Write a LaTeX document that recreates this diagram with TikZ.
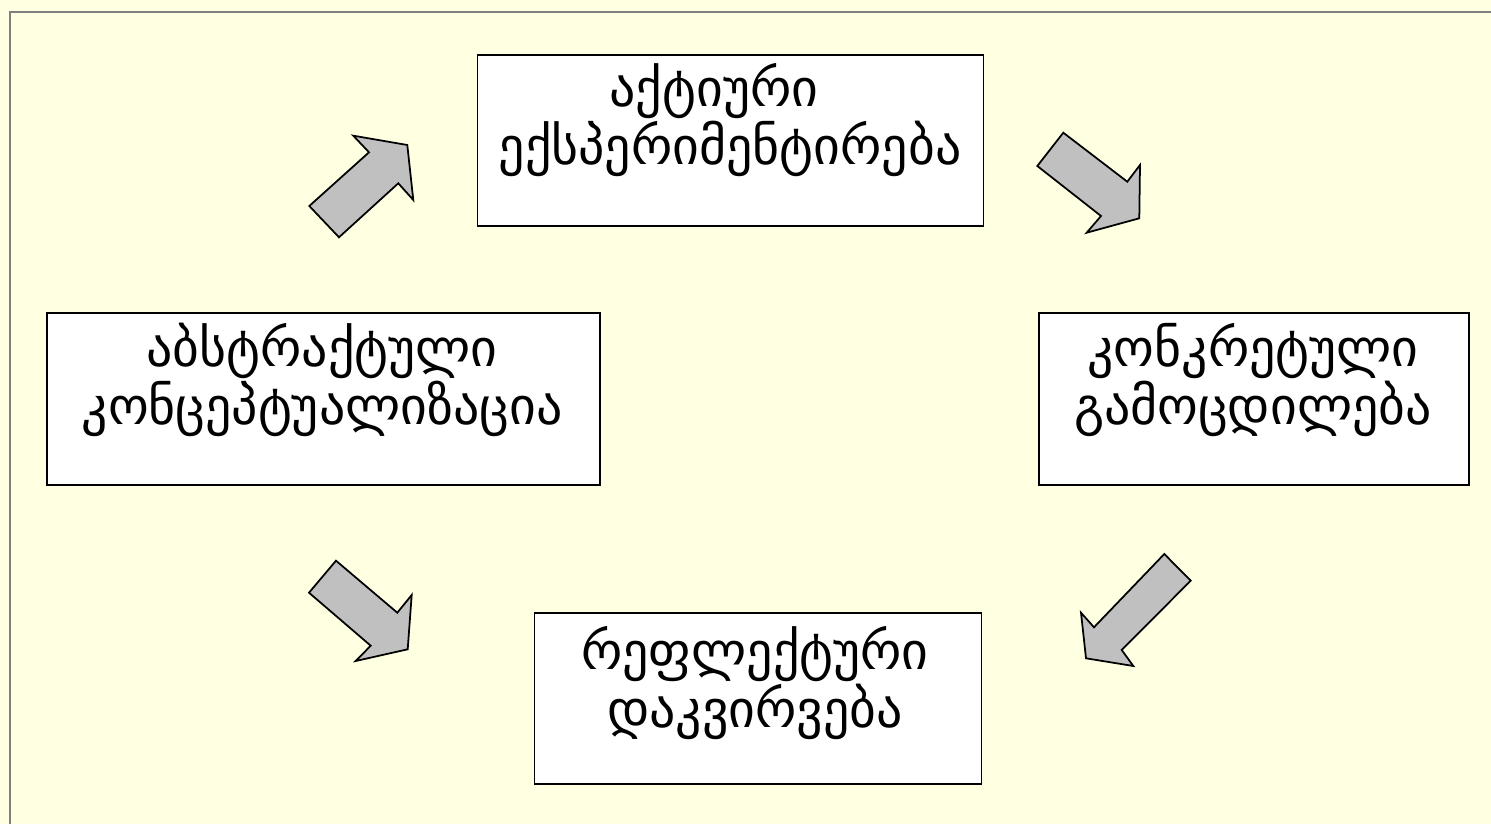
\documentclass[tikz,border=0pt]{standalone}
\usepackage{fontspec}
\newfontfamily\geofont{DejaVu Sans}
\usetikzlibrary{positioning}
\definecolor{bgyellow}{RGB}{255,255,226}
\definecolor{framegray}{RGB}{128,128,128}
\definecolor{arrowgray}{RGB}{192,192,192}
\tikzset{
  stagebox/.style={draw=black, fill=white, line width=1pt, inner sep=0pt},
  stagetext/.style={font=\geofont\fontsize{29.5}{28.6}\selectfont, align=center, inner sep=0pt},
  blockarrow/.style={fill=arrowgray, draw=black, line width=1pt, line join=miter}
}
\begin{document}
\begin{tikzpicture}[x=0.02cm,y=-0.02cm]
	\useasboundingbox (0,0) rectangle (1491,824);
	\fill[bgyellow] (0,0) rectangle (1491,824);
	\draw[framegray, line width=1.2pt] (10,824)--(10,12)--(1491,12);

	% stages
	\node[stagebox, minimum width=10.12cm, minimum height=3.42cm] (active) at (730.5,140.5) {};
	\node[stagebox, minimum width=11.06cm, minimum height=3.44cm] (abstract) at (323.5,399) {};
	\node[stagebox, minimum width=8.6cm, minimum height=3.44cm] (concrete) at (1254,399) {};
	\node[stagebox, minimum width=8.94cm, minimum height=3.42cm] (reflective) at (758,698.5) {};

	\node[stagetext] (activetext) at (730,120) {აქტიური\hspace*{0.64cm}\\ექსპერიმენტირება};
	\node[stagetext] (abstracttext) at (322,380) {აბსტრაქტული\\კონცეპტუალიზაცია};
	\node[stagetext] (concretetext) at (1253,380) {კონკრეტული\\გამოცდილება};
	\node[stagetext] (reflectivetext) at (755,683) {რეფლექტური\\დაკვირვება};

	% cycle arrows
	\filldraw[blockarrow] (309.3,206)--(339,237.3)--(398.3,183.3)--(413.3,200)--(407.3,145)--(353.3,135.7)--(369,152.3)--cycle;
	\filldraw[blockarrow] (1063.3,132.7)--(1037.3,166)--(1101,216)--(1086.7,232.7)--(1139.3,218.3)--(1140,165)--(1127.3,181.7)--cycle;
	\filldraw[blockarrow] (1164.3,554)--(1190.7,580.7)--(1121.7,650)--(1133.3,666)--(1086,658.3)--(1081,612.7)--(1094,627.3)--cycle;
	\filldraw[blockarrow] (336,560.7)--(309,592.7)--(370.7,645.7)--(355.7,661)--(407.7,649.3)--(411.7,595)--(397.3,612.7)--cycle;
\end{tikzpicture}
\end{document}
